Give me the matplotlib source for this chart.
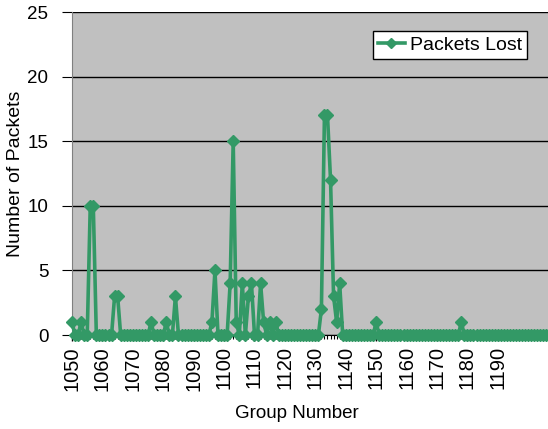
import numpy as np
import matplotlib.pyplot as plt

plt.rcParams['font.family'] = ['Liberation Sans', 'DejaVu Sans']

# groups with packets lost; every other group lost none
first_group = 1050
last_group = 1206
loss_groups = [1050, 1053, 1056, 1057, 1064, 1065, 1076, 1081, 1084,
               1096, 1097, 1102, 1103, 1104, 1106, 1108, 1109, 1112, 1113,
               1115, 1117, 1132, 1133, 1134, 1135, 1136, 1137, 1138,
               1150, 1178]
loss_counts = [1, 1, 10, 10, 3, 3, 1, 1, 3,
               1, 5, 4, 15, 1, 4, 3, 4, 4, 1,
               1, 1, 2, 17, 17, 12, 3, 1, 4,
               1, 1]

groups = np.arange(first_group, last_group + 1)
lost = np.zeros(len(groups))
for g, c in zip(loss_groups, loss_counts):
    lost[g - first_group] = c

fig = plt.figure(figsize=(5.48, 4.29), dpi=100)
ax = fig.add_axes([0.1314, 0.219, 0.8686, 0.753])
ax.set_facecolor('#C0C0C0')

ax.plot(groups, lost, color='#339966', lw=2.6, marker='D', ms=6,
        label='Packets Lost', zorder=3, clip_on=False)

ax.set_xlim(first_group, last_group + 0.5)
ax.set_ylim(0, 25)
ax.set_yticks(np.arange(0, 26, 5))
ax.set_xticks(np.arange(1050, 1200, 10))
ax.set_xticks(groups, minor=True)
ax.tick_params(axis='x', which='major', labelrotation=90, labelsize=14.5,
               length=4, width=1, direction='out', pad=4)
ax.tick_params(axis='x', which='minor', length=3, width=0.8, direction='out')
ax.tick_params(axis='y', labelsize=13.5, length=7, direction='out', pad=10)
ax.grid(axis='y', color='black', lw=1)
ax.set_axisbelow(True)

for side in ['top', 'right']:
    ax.spines[side].set_visible(False)
ax.spines['left'].set_color('#808080')
ax.spines['bottom'].set_color('black')

ax.set_xlabel('Group Number', fontsize=13.5, labelpad=10)
ax.xaxis.label.set_x(0.473)
ax.set_ylabel('Number of Packets', fontsize=14)
ax.yaxis.set_label_coords(-0.1, 0.5)

leg = ax.legend(loc='upper right', bbox_to_anchor=(0.955, 0.94), fontsize=14,
                fancybox=False, framealpha=1, edgecolor='black',
                handlelength=1.4, handletextpad=0.25, borderpad=0.25,
                borderaxespad=0, markerscale=0.8)
leg.get_frame().set_linewidth(1)

fig.savefig('out.png', dpi=100)
